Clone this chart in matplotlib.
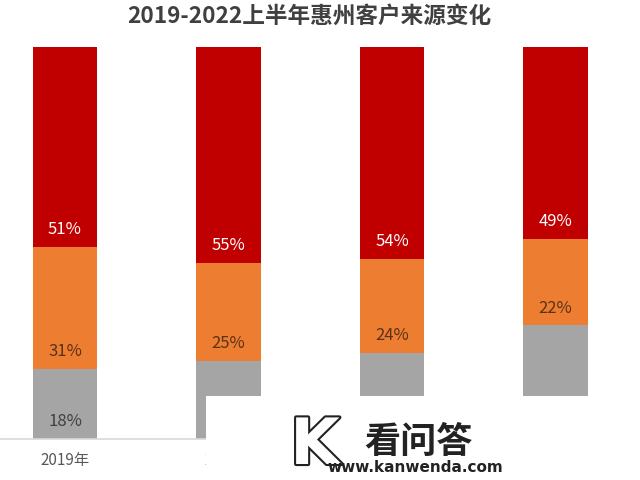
import matplotlib
matplotlib.use("Agg")
import matplotlib.pyplot as plt
import matplotlib.patheffects as pe
from matplotlib.patches import Rectangle

plt.rcParams['font.family'] = ['Noto Sans CJK SC', 'DejaVu Sans']

categories = ['2019年', '2020年', '2021年', '2022上半年']
gray_vals = [18, 20, 22, 29]
orange_vals = [31, 25, 24, 22]
red_vals = [51, 55, 54, 49]
title = '2019-2022上半年惠州客户来源变化'

c_red = '#C00000'
c_orange = '#ED7D31'
c_gray = '#A5A5A5'

fig = plt.figure(figsize=(6.4, 4.8), dpi=100)
ax = fig.add_axes([0, 1 - 439 / 480, 1, (439 - 47.5) / 480])
x = list(range(len(categories)))
w = 0.394

ax.bar(x, gray_vals, width=w, color=c_gray)
bottom2 = gray_vals
ax.bar(x, orange_vals, width=w, bottom=bottom2, color=c_orange)
bottom3 = [g + o for g, o in zip(gray_vals, orange_vals)]
ax.bar(x, red_vals, width=w, bottom=bottom3, color=c_red)

for i in x:
    segs = [(orange_vals[i], bottom2[i], '#5A3215'),
            (red_vals[i], bottom3[i], 'white')]
    if i == 0:  # other gray labels are hidden under the watermark box
        segs.append((gray_vals[i], 0, '#404040'))
    for val, bot, col in segs:
        ax.annotate(f'{val}%', xy=(i, bot), xytext=(0, 12.5),
                    textcoords='offset points', ha='center', va='center',
                    fontsize=12, color=col)

ax.set_xlim(-65 / 163.5, (640 - 65) / 163.5)
ax.set_ylim(0, 100)
ax.set_xticks(x)
# labels of the last two categories are hidden under the watermark box in the reference
shown = [c if i < 2 else '' for i, c in enumerate(categories)]
ax.set_xticklabels(shown, fontsize=11, color='#595959')
ax.tick_params(axis='x', length=0, pad=9)
ax.set_yticks([])
for s in ['top', 'right', 'left']:
    ax.spines[s].set_visible(False)
ax.spines['bottom'].set_color('#D9D9D9')
ax.spines['bottom'].set_linewidth(1.2)

fig.text(309.5 / 640, 1 - 16 / 480, title, ha='center', va='center',
         fontsize=16.3, fontweight='bold', color='#404040')

# watermark overlay
fig.patches.append(Rectangle((206 / 640, 0), 1 - 206 / 640, (480 - 396) / 480,
                             transform=fig.transFigure, facecolor='white',
                             edgecolor='none', zorder=10))
fig.text(315 / 640, 1 - 446 / 480, 'K', ha='center', va='center', fontsize=46,
         color='white', fontweight='bold', zorder=11,
         path_effects=[pe.withStroke(linewidth=3, foreground='#222222')],
         family='DejaVu Sans')
fig.text(418 / 640, 1 - 442 / 480, '看问答', ha='center', va='center',
         fontsize=26, fontweight='bold', color='#222222', zorder=11)
fig.text(415 / 640, 1 - 468 / 480, 'www.kanwenda.com', ha='center', va='center',
         fontsize=11, fontweight='bold', color='#222222', zorder=11,
         family='DejaVu Sans')

fig.savefig('out.png', dpi=100, facecolor='white')
